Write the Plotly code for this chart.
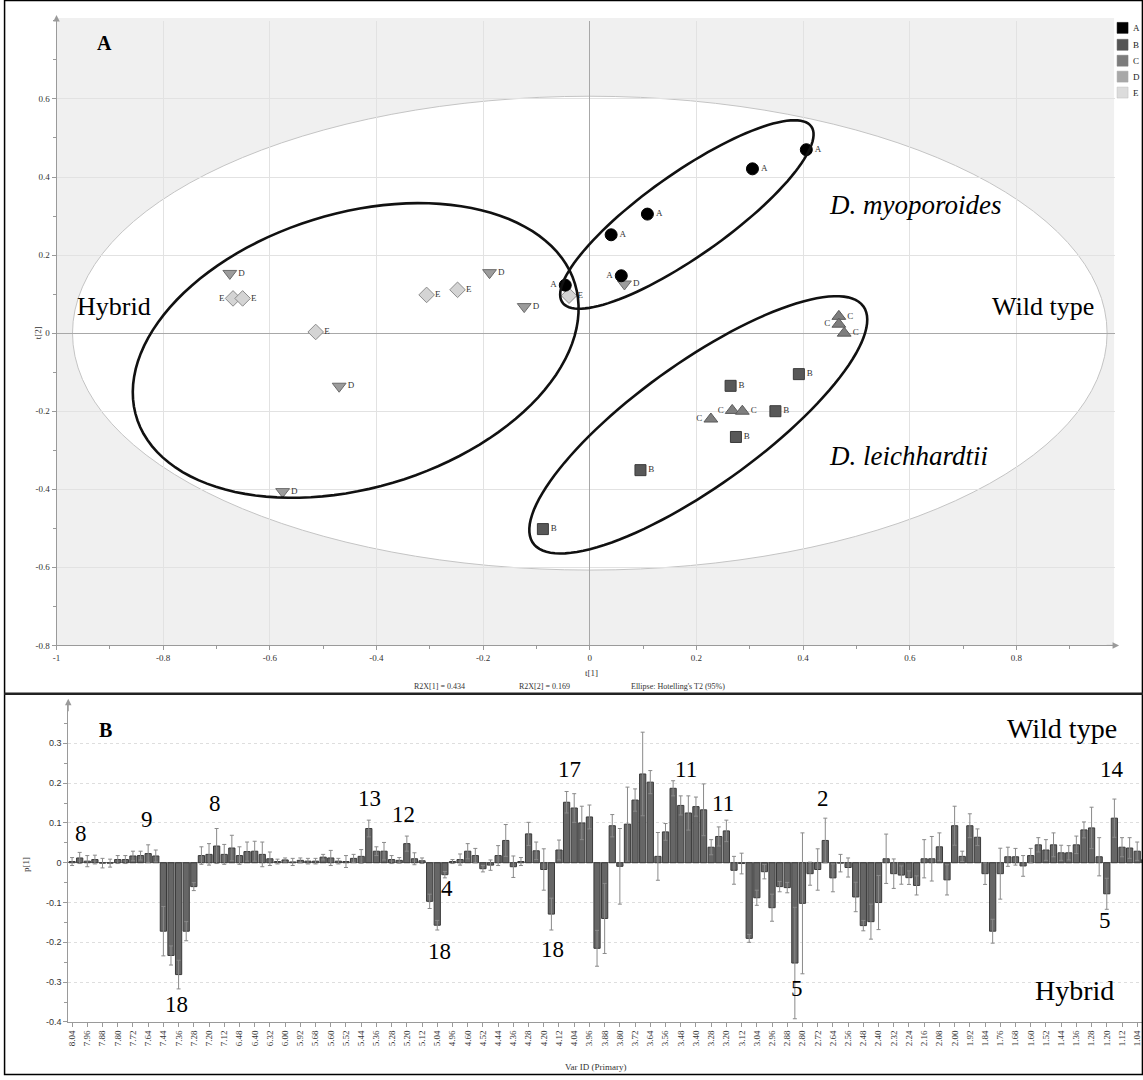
import numpy as np
import plotly.graph_objects as go

W, H = 1143, 1080
SERIF = "Liberation Serif, Times New Roman, serif"
SANS = "Liberation Sans, Arial, sans-serif"

# ---------------- Panel A: PCA scores t[1], t[2] ----------------
a_t1 = [-0.046, 0.059, 0.040, 0.108, 0.305, 0.406]
a_t2 = [0.123, 0.147, 0.252, 0.305, 0.421, 0.470]
a_pos = ["middle left", "middle left", "middle right", "middle right", "middle right", "middle right"]

b_t1 = [0.392, 0.264, 0.348, 0.274, 0.095, -0.088]
b_t2 = [-0.105, -0.135, -0.200, -0.266, -0.351, -0.502]
b_pos = ["middle right"] * 6

c_t1 = [0.467, 0.467, 0.477, 0.227, 0.267, 0.286]
c_t2 = [0.043, 0.023, 0.000, -0.220, -0.198, -0.200]
c_pos = ["middle right", "middle left", "middle right", "middle left", "middle left", "middle right"]

d_t1 = [-0.675, -0.470, -0.576, -0.188, -0.123, 0.065]
d_t2 = [0.153, -0.136, -0.406, 0.155, 0.068, 0.126]
d_pos = ["middle right"] * 6

e_t1 = [-0.669, -0.651, -0.514, -0.306, -0.248, -0.039]
e_t2 = [0.089, 0.089, 0.003, 0.098, 0.111, 0.096]
e_pos = ["middle left", "middle right", "middle right", "middle right", "middle right", "middle right"]

groups = ["A", "B", "C", "D", "E"]
legend_colors = ["#000000", "#555555", "#7c7c7c", "#a8a8a8", "#dcdcdc"]

a_xticks = [-1, -0.8, -0.6, -0.4, -0.2, 0, 0.2, 0.4, 0.6, 0.8]
a_xticktext = ["-1", "-0.8", "-0.6", "-0.4", "-0.2", "0", "0.2", "0.4", "0.6", "0.8"]
a_yticks = [-0.8, -0.6, -0.4, -0.2, 0, 0.2, 0.4, 0.6]
a_yticktext = ["-0.8", "-0.6", "-0.4", "-0.2", "0", "0.2", "0.4", "0.6"]

# ---------------- Panel B: loadings p[1] ----------------
var_ids = ["8.04","8.00","7.96","7.92","7.88","7.84","7.80","7.76","7.72","7.68",
           "7.64","7.60","7.44","7.40","7.36","7.32","7.28","7.24","7.20","7.16",
           "7.12","7.08","6.48","6.44","6.40","6.36","6.32","6.28","6.00","5.96",
           "5.92","5.88","5.68","5.64","5.60","5.56","5.52","5.48","5.44","5.40",
           "5.36","5.32","5.28","5.24","5.20","5.16","5.12","5.08","5.04","5.00",
           "4.96","4.92","4.60","4.56","4.52","4.48","4.44","4.40","4.36","4.32",
           "4.28","4.24","4.20","4.16","4.12","4.08","4.04","4.00","3.96","3.92",
           "3.88","3.84","3.80","3.76","3.72","3.68","3.64","3.60","3.56","3.52",
           "3.48","3.44","3.40","3.36","3.28","3.24","3.20","3.16","3.12","3.08",
           "3.04","3.00","2.96","2.92","2.88","2.84","2.80","2.76","2.72","2.68",
           "2.64","2.60","2.56","2.52","2.48","2.44","2.40","2.36","2.32","2.28",
           "2.24","2.20","2.16","2.12","2.08","2.04","2.00","1.96","1.92","1.88",
           "1.84","1.80","1.76","1.72","1.68","1.64","1.60","1.56","1.52","1.48",
           "1.44","1.40","1.36","1.32","1.28","1.24","1.20","1.16","1.12","1.08",
           "1.04","1.00"]

p1 = [0.003,0.012,0.004,0.008,-0.001,-0.001,0.008,0.008,0.017,0.018,
      0.023,0.017,-0.172,-0.233,-0.281,-0.172,-0.060,0.018,0.021,0.042,
      0.021,0.037,0.018,0.028,0.029,0.021,0.010,0.003,0.007,0.002,
      0.006,0.004,0.004,0.014,0.012,0.004,0.003,0.011,0.016,0.086,
      0.029,0.029,0.008,0.006,0.048,0.010,0.005,-0.097,-0.157,-0.030,
      0.003,0.008,0.029,0.018,-0.015,-0.006,0.018,0.056,-0.010,0.003,
      0.0725,0.030,-0.017,-0.129,0.032,0.152,0.1375,0.100,0.115,-0.215,
      -0.140,0.093,-0.009,0.097,0.1575,0.223,0.2025,0.016,0.0775,0.187,
      0.144,0.125,0.141,0.133,0.039,0.066,0.080,-0.019,-0.002,-0.190,
      -0.088,-0.0225,-0.113,-0.060,-0.0625,-0.252,-0.102,-0.0275,-0.017,0.056,
      -0.038,-0.001,-0.012,-0.086,-0.158,-0.148,-0.100,0.010,-0.0275,-0.031,
      -0.0375,-0.057,0.010,0.010,0.040,-0.043,0.093,0.016,0.093,0.064,
      -0.0275,-0.172,-0.0275,0.015,0.015,-0.008,0.018,0.045,0.032,0.045,
      0.025,0.025,0.045,0.0825,0.0875,0.015,-0.078,0.112,0.039,0.037,
      0.029,0.008]

p1_err = [0.010,0.014,0.014,0.011,0.012,0.010,0.010,0.010,0.012,0.011,
          0.022,0.015,0.062,0.024,0.036,0.024,0.010,0.022,0.027,0.044,
          0.025,0.032,0.022,0.024,0.025,0.031,0.017,0.006,0.005,0.009,
          0.006,0.007,0.007,0.007,0.019,0.007,0.015,0.010,0.017,0.021,
          0.011,0.022,0.010,0.007,0.019,0.015,0.007,0.018,0.012,0.008,
          0.005,0.014,0.019,0.018,0.008,0.013,0.025,0.040,0.027,0.010,
          0.029,0.022,0.052,0.040,0.025,0.027,0.036,0.042,0.030,0.045,
          0.088,0.028,0.095,0.093,0.028,0.105,0.029,0.060,0.021,0.019,
          0.024,0.043,0.024,0.065,0.019,0.024,0.027,0.035,0.026,0.010,
          0.019,0.018,0.034,0.013,0.013,0.140,0.177,0.029,0.052,0.056,
          0.035,0.022,0.024,0.037,0.013,0.044,0.068,0.062,0.037,0.023,
          0.017,0.024,0.048,0.056,0.035,0.038,0.049,0.013,0.030,0.021,
          0.027,0.030,0.064,0.024,0.021,0.026,0.018,0.018,0.026,0.030,
          0.019,0.018,0.022,0.020,0.052,0.048,0.039,0.048,0.024,0.026,
          0.023,0.010]

b_ticklabels = ["8.04","7.96","7.88","7.80","7.72","7.64","7.44","7.36","7.28","7.20",
                "7.12","6.48","6.40","6.32","6.00","5.92","5.68","5.60","5.52","5.44",
                "5.36","5.28","5.20","5.12","5.04","4.96","4.60","4.52","4.44","4.36",
                "4.28","4.20","4.12","4.04","3.96","3.88","3.80","3.72","3.64","3.56",
                "3.48","3.40","3.28","3.20","3.12","3.04","2.96","2.88","2.80","2.72",
                "2.64","2.56","2.48","2.40","2.32","2.24","2.16","2.08","2.00","1.92",
                "1.84","1.76","1.68","1.60","1.52","1.44","1.36","1.28","1.20","1.12",
                "1.04"]
b_yticks = [-0.4, -0.3, -0.2, -0.1, 0, 0.1, 0.2, 0.3]
b_yticktext = ["-0.4", "-0.3", "-0.2", "-0.1", "0", "0.1", "0.2", "0.3"]

# ---------------- layout geometry (pixels) ----------------
A_L, A_R, A_T, A_B = 52.7, 1115.0, 21.0, 648.4
A_XR = [-1.0, 0.985]
A_YR = [-0.8, 0.8]
B_L, B_R, B_T, B_B = 64.5, 1143.0, 708.0, 1026.7
B_YR = [-0.4, 0.397]
B_XR = [-0.5, 140.76]

def px(x):
    return x / W

def py(y):
    return 1 - y / H

SX = (A_R - A_L) / (A_XR[1] - A_XR[0])
SY = (A_B - A_T) / (A_YR[1] - A_YR[0])


def ellipse_path(cx, cy, a_px, b_px, ang_deg, n=120):
    th = np.linspace(0, 2 * np.pi, n)
    ang = np.deg2rad(ang_deg)
    dx = a_px * np.cos(th) * np.cos(ang) - b_px * np.sin(th) * np.sin(ang)
    dy = a_px * np.cos(th) * np.sin(ang) + b_px * np.sin(th) * np.cos(ang)
    xs = cx + dx / SX
    ys = cy + dy / SY
    pts = [f"{x:.5f},{y:.5f}" for x, y in zip(xs, ys)]
    return "M " + " L ".join(pts) + " Z"


fig = go.Figure()

# score traces
styles = {
    "E": dict(t1=e_t1, t2=e_t2, pos=e_pos, symbol="diamond", color="#d4d4d4", line="#8c8c8c", size=12),
    "D": dict(t1=d_t1, t2=d_t2, pos=d_pos, symbol="triangle-down", color="#9c9c9c", line="#6a6a6a", size=12),
    "C": dict(t1=c_t1, t2=c_t2, pos=c_pos, symbol="triangle-up", color="#7e7e7e", line="#5a5a5a", size=12),
    "B": dict(t1=b_t1, t2=b_t2, pos=b_pos, symbol="square", color="#585858", line="#3a3a3a", size=11),
    "A": dict(t1=a_t1, t2=a_t2, pos=a_pos, symbol="circle", color="#000000", line="#000000", size=12),
}
for g in ["E", "D", "C", "B", "A"]:
    s = styles[g]
    fig.add_trace(go.Scatter(
        x=s["t1"], y=s["t2"], mode="markers+text", text=[g] * len(s["t1"]),
        textposition=s["pos"], textfont=dict(family=SERIF, size=9, color="#333333"),
        marker=dict(symbol=s["symbol"], size=s["size"], color=s["color"],
                    line=dict(color=s["line"], width=1)),
        xaxis="x", yaxis="y", showlegend=False, cliponaxis=False))

# loadings bars
fig.add_trace(go.Bar(
    x=var_ids, y=p1, xaxis="x2", yaxis="y2", showlegend=False,
    marker=dict(color="#666666", line=dict(color="#3a3a3a", width=1)),
    error_y=dict(type="data", array=p1_err, visible=True, color="#8a8a8a", thickness=1, width=2),
))

shapes = [
    # grey score-plot background
    dict(type="rect", xref="paper", yref="paper", x0=px(A_L), x1=px(1114), y0=py(A_B), y1=py(A_T - 3),
         fillcolor="#f0f0f0", line=dict(width=0), layer="below"),
    # Hotelling T2 ellipse
    dict(type="circle", xref="x", yref="y", x0=-0.97, x1=0.97, y0=-0.607, y1=0.607,
         fillcolor="#ffffff", line=dict(color="#c4c4c4", width=1), layer="below"),
    # hand-drawn group ellipses
    dict(type="path", xref="x", yref="y", path=ellipse_path(-0.439, -0.0444, 230, 138, 16.9),
         line=dict(color="#111111", width=2.6)),
    dict(type="path", xref="x", yref="y", path=ellipse_path(0.182, 0.304, 153, 41.5, 35.3),
         line=dict(color="#111111", width=2.6)),
    dict(type="path", xref="x", yref="y", path=ellipse_path(0.2034, -0.2349, 204, 62, 35.7),
         line=dict(color="#111111", width=2.6)),
    # frame
    dict(type="rect", xref="paper", yref="paper", x0=0.0005, x1=0.9995, y0=0.0005, y1=0.9995,
         line=dict(color="#000000", width=1.5)),
    dict(type="line", xref="paper", yref="paper", x0=0, x1=1, y0=py(697), y1=py(697),
         line=dict(color="#222222", width=2.5)),
]

ann = []
def txt(x, y, s, size, family=SERIF, color="#000000", angle=0, xanchor="center", yanchor="middle"):
    ann.append(dict(x=px(x), y=py(y), xref="paper", yref="paper", text=s, showarrow=False,
                    font=dict(family=family, size=size, color=color), textangle=angle,
                    xanchor=xanchor, yanchor=yanchor))

# legend (top right)
legend_y = [28, 45, 61, 77, 93]
for g, c, ly in zip(groups, legend_colors, legend_y):
    shapes.append(dict(type="rect", xref="paper", yref="paper",
                       x0=px(1117), x1=px(1128), y0=py(ly + 5.5), y1=py(ly - 5.5),
                       fillcolor=c, line=dict(color="#bdbdbd" if g == "E" else c, width=0.5)))
    txt(1131, ly, g, 9, color="#222222", xanchor="left")

# panel A texts
txt(101, 43, "<b>A</b>", 20)
txt(110, 308, "Hybrid", 26)
txt(1043, 308, "Wild type", 26)
txt(826, 206, "<i>D. myoporoides</i>", 27, xanchor="left")
txt(826, 458, "<i>D. leichhardtii</i>", 27, xanchor="left")
txt(590, 676, "t[1]", 9, color="#333333")
txt(35, 334, "t[2]", 9, color="#333333", angle=-90)
txt(437, 690, "R2X[1] = 0.434", 8, color="#333333")
txt(542, 690, "R2X[2] = 0.169", 8, color="#333333")
txt(676, 690, "Ellipse: Hotelling's T2 (95%)", 8, color="#333333")

# panel B texts
txt(102, 733, "<b>B</b>", 20)
txt(1062, 732, "Wild type", 28)
txt(1074, 995, "Hybrid", 28)
txt(22, 868, "p[1]", 9, color="#333333", angle=-90)
txt(594, 1072, "Var ID (Primary)", 9, color="#333333")
for x, y, s in [(77, 837, "8"), (144, 823, "9"), (212, 807, "8"), (173, 1009, "18"),
                (367, 802, "13"), (401, 818, "12"), (445, 893, "4"), (437, 956, "18"),
                (567, 773, "17"), (550, 954, "18"), (684, 773, "11"), (722, 807, "11"),
                (822, 802, "2"), (796, 993, "5"), (1112, 773, "14"), (1105, 925, "5")]:
    txt(x, y, s, 23)

# axis arrows
for (xa, ya, axx, ayy) in [(A_R + 4, A_B, -14, 0), (A_L, A_T - 6, 0, 14), (B_L, B_T - 6, 0, 14)]:
    ann.append(dict(x=px(xa), y=py(ya), xref="paper", yref="paper", ax=axx, ay=ayy,
                    axref="pixel", ayref="pixel", text="", showarrow=True,
                    arrowhead=2, arrowsize=1.3, arrowwidth=1, arrowcolor="#9a9a9a"))

axis_common = dict(showline=True, linecolor="#9a9a9a", linewidth=1, ticks="outside",
                   tickcolor="#9a9a9a", ticklen=4, mirror=False)

fig.update_layout(
    width=W, height=H, margin=dict(l=0, r=0, t=0, b=0),
    paper_bgcolor="#ffffff", plot_bgcolor="rgba(0,0,0,0)",
    shapes=shapes, annotations=ann, bargap=0.18, showlegend=False,
    xaxis=dict(domain=[px(A_L), px(A_R)], range=A_XR, tickvals=a_xticks, ticktext=a_xticktext,
               tickfont=dict(family=SERIF, size=9, color="#333333"),
               showgrid=True, gridcolor="#e2e2e2", gridwidth=1,
               zeroline=True, zerolinecolor="#a8a8a8", zerolinewidth=1,
               minor=dict(ticks="outside", dtick=0.1, tick0=0, ticklen=3, tickcolor="#9a9a9a", showgrid=False),
               anchor="y", **axis_common),
    yaxis=dict(domain=[py(A_B), py(A_T)], range=A_YR, tickvals=a_yticks, ticktext=a_yticktext,
               tickfont=dict(family=SERIF, size=9, color="#333333"),
               showgrid=True, gridcolor="#e2e2e2", gridwidth=1,
               zeroline=True, zerolinecolor="#a8a8a8", zerolinewidth=1,
               minor=dict(ticks="outside", dtick=0.1, tick0=0, ticklen=3, tickcolor="#9a9a9a", showgrid=False),
               anchor="x", **axis_common),
    xaxis2=dict(domain=[px(B_L), px(B_R)], type="category", range=B_XR,
                tickmode="array", tickvals=b_ticklabels, ticktext=b_ticklabels, tickangle=-90,
                tickfont=dict(family=SERIF, size=9, color="#333333"),
                showgrid=False, anchor="y2", **axis_common),
    yaxis2=dict(domain=[py(B_B), py(B_T)], range=B_YR, tickvals=b_yticks, ticktext=b_yticktext,
                tickfont=dict(family=SANS, size=9, color="#333333"),
                showgrid=True, gridcolor="#dedede", griddash="dot", gridwidth=1,
                zeroline=True, zerolinecolor="#8a8a8a", zerolinewidth=1,
                minor=dict(ticks="outside", dtick=0.05, tick0=0, ticklen=3, tickcolor="#9a9a9a", showgrid=False),
                anchor="x2", **axis_common),
)

fig.write_html("out.html", config={"displayModeBar": False},
               post_script="document.body.style.margin='0';document.body.style.overflow='hidden';")
